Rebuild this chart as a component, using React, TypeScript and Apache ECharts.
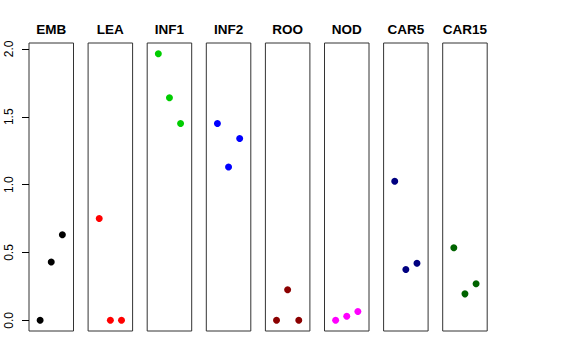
import React, { useEffect, useRef } from "react";
import * as echarts from "echarts";

const panels = ["EMB", "LEA", "INF1", "INF2", "ROO", "NOD", "CAR5", "CAR15"];
const colors = ["#000000", "#FF0000", "#00CD00", "#0000FF", "#8B0000", "#FF00FF", "#000080", "#006400"];
const positions = [1, 2, 3];
const values: number[][] = [
  [0.0, 0.43, 0.63],
  [0.75, 0.0, 0.0],
  [1.965, 1.64, 1.45],
  [1.45, 1.13, 1.34],
  [0.0, 0.225, 0.0],
  [0.0, 0.03, 0.065],
  [1.025, 0.375, 0.42],
  [0.535, 0.195, 0.27],
];
const yTicks = [0, 0.5, 1.0, 1.5, 2.0];
const yTickLabels = ["0.0", "0.5", "1.0", "1.5", "2.0"];

export default function App() {
  const ref = useRef<HTMLDivElement>(null);
  useEffect(() => {
    const chart = echarts.init(ref.current!, null, { renderer: "svg" });
    const left0 = 29;
    const step = 59.1;
    const w = 44.5;
    const top = 43;
    const h = 288;
    const yMin = -0.0786;
    const yMax = 2.0436;
    const grids = panels.map((_, i) => ({
      left: left0 + step * i,
      top,
      width: w,
      height: h,
      show: true,
      borderColor: "#333",
      borderWidth: 1,
      backgroundColor: "transparent",
    }));
    const xAxes = panels.map((_, i) => ({
      type: "value",
      gridIndex: i,
      min: 0,
      max: 4,
      show: false,
    }));
    const yAxes = panels.map((_, i) => ({
      type: "value",
      gridIndex: i,
      min: yMin,
      max: yMax,
      show: i === 0,
      splitLine: { show: false },
      axisLine: { show: false },
      axisTick: {
        show: i === 0,
        length: 7,
        customValues: yTicks,
        lineStyle: { color: "#000", width: 1 },
      },
      axisLabel: {
        show: i === 0,
        rotate: 90,
        margin: 14,
        customValues: yTicks,
        formatter: (v: number) => {
          const k = yTicks.findIndex((t) => Math.abs(t - v) < 1e-6);
          return k >= 0 ? yTickLabels[k] : "";
        },
        fontFamily: "Liberation Sans, Arial, sans-serif",
        fontSize: 12,
        color: "#000",
      },
    }));
    const series = panels.map((_, i) => ({
      type: "scatter",
      xAxisIndex: i,
      yAxisIndex: i,
      symbol: "circle",
      symbolSize: 7,
      itemStyle: { color: colors[i], opacity: 1 },
      data: positions.map((p, j) => [p, values[i][j]]),
    }));
    const graphic = panels.map((name, i) => ({
      type: "text",
      x: left0 + step * i + w / 2,
      y: 29.5,
      style: {
        text: name,
        align: "center",
        verticalAlign: "middle",
        font: "bold 13.5px 'Liberation Sans', Arial, sans-serif",
        fill: "#000",
      },
    }));
    chart.setOption({
      animation: false,
      backgroundColor: "#fff",
      grid: grids,
      xAxis: xAxes,
      yAxis: yAxes,
      series,
      graphic,
    });
    return () => chart.dispose();
  }, []);
  return <div ref={ref} style={{ width: 576, height: 360, position: "absolute", left: 0, top: 0 }} />;
}
